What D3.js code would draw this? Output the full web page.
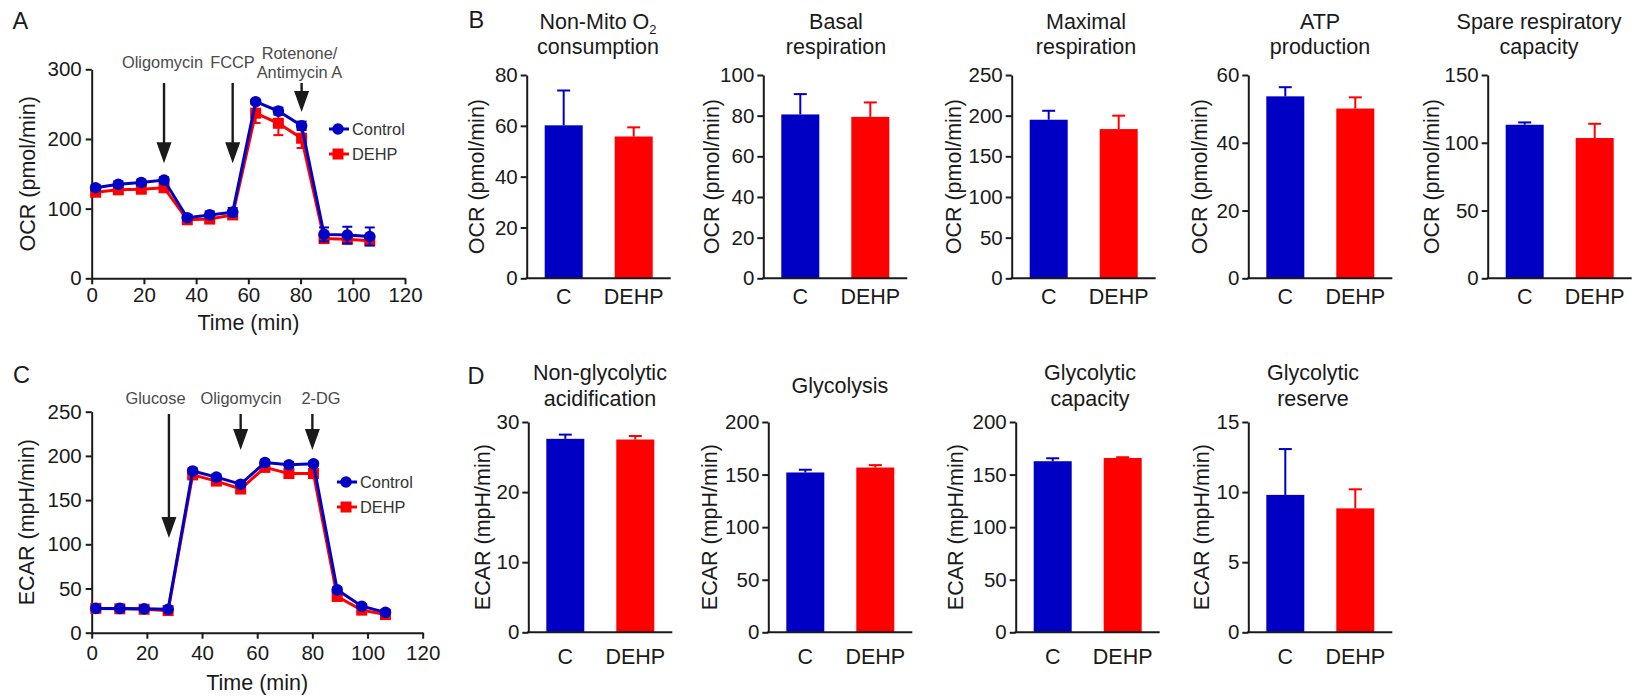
<!DOCTYPE html>
<html><head><meta charset="utf-8">
<script src="https://cdn.jsdelivr.net/npm/d3@7"></script>
<style>
html,body{margin:0;padding:0;background:#fff;}
svg text{font-family:"Liberation Sans",Arial,Helvetica,sans-serif;}
</style></head><body>
<svg id="fig" width="1635" height="697"></svg>
<script>
// ---------------- DATA ----------------
const timePoints = [1.5, 10.2, 19, 27.7, 36.6, 45.2, 54, 62.8, 71.5, 80.4, 89, 97.9, 106.5];
const timeTicks = [0, 20, 40, 60, 80, 100, 120];

const ocrControl    = [130, 135, 137.5, 141, 87, 91, 95, 253.5, 240, 219, 63, 62, 60];
const ocrControlErr = [4, 4, 4, 4, 4, 5, 6, 3, 5, 6, 10, 12, 13];
const ocrDEHP       = [123.5, 127, 128, 130, 84, 85, 91, 237, 222.5, 201, 57, 56, 54];
const ocrDEHPErr    = [5, 6, 6, 6, 5, 5, 5, 14, 17, 14, 5, 5, 5];
const ocrInjections = [["Oligomycin"], ["FCCP"], ["Rotenone/", "Antimycin A"]];
const ocrInjectionTimes = [27.7, 54, 80.4];

const ecarControl    = [27.5, 27.5, 27, 26.5, 183, 176, 168, 192.5, 190, 191, 48.5, 30, 23];
const ecarControlErr = [2, 2, 2, 2, 3, 3, 3, 3, 3, 3, 3, 2, 2];
const ecarDEHP       = [27.5, 27, 26.5, 25, 178.5, 171.5, 162.5, 187, 180, 180, 41, 25.5, 20.5];
const ecarDEHPErr    = [2, 2, 2, 2, 3, 3, 3, 3, 3, 3, 3, 2, 2];
const ecarInjections = [["Glucose"], ["Oligomycin"], ["2-DG"]];
const ecarInjectionTimes = [28, 54, 80];

const seriesNames = ["Control", "DEHP"];
const groups = ["C", "DEHP"];

const ocrTitles = [["Non-Mito O_2", "consumption"], ["Basal", "respiration"], ["Maximal", "respiration"], ["ATP", "production"], ["Spare respiratory", "capacity"]];
const ocrMeans = [[60.2, 55.8], [80.6, 79.4], [195, 183.5], [53.7, 50.1], [113.3, 103.5]];
const ocrErrs  = [[13.7, 3.6], [10, 7.1], [11, 16.5], [2.7, 3.3], [1.7, 10.5]];
const ocrMax   = [80, 100, 250, 60, 150];
const ocrStep  = [20, 20, 50, 20, 50];

const ecarTitles = [["Non-glycolytic", "acidification"], ["Glycolysis"], ["Glycolytic", "capacity"], ["Glycolytic", "reserve"]];
const ecarMeans = [[27.6, 27.5], [152, 156.7], [162.7, 165.8], [9.8, 8.84]];
const ecarErrs  = [[0.6, 0.5], [2.6, 2.3], [2.8, 0.7], [3.27, 1.36]];
const ecarMax   = [30, 200, 200, 15];
const ecarStep  = [10, 50, 50, 5];

// ---------------- STYLE / LAYOUT ----------------
const BLUE = "#0000c4", RED = "#ff0000", INK = "#1a1a1a", GRAY = "#4a4a4a";
const TICK_FS = 20.5, LABEL_FS = 21.5, ANNOT_FS = 16.4;
const svg = d3.select("#fig");

function styleAxis(g) {
  g.selectAll("path.domain").attr("stroke", INK).attr("stroke-width", 2);
  g.selectAll(".tick line").attr("stroke", INK).attr("stroke-width", 2);
  g.selectAll(".tick text").attr("fill", INK).attr("font-size", TICK_FS)
    .attr("font-family", '"Liberation Sans",Arial,sans-serif');
}

function panelLetter(txt, x, y) {
  svg.append("text").attr("x", x).attr("y", y).attr("font-size", 23.5).attr("fill", INK).text(txt);
}

// --------------- LINE PANELS ---------------
function drawLinePanel(cfg) {
  const g = svg.append("g");
  const x = d3.scaleLinear().domain([0, 120]).range([cfg.x0, cfg.x1]);
  const y = d3.scaleLinear().domain([0, cfg.yMax]).range([cfg.yBottom, cfg.yTop]);

  const gx = g.append("g").attr("transform", `translate(0,${cfg.yBottom})`)
    .call(d3.axisBottom(x).tickValues(timeTicks).tickSize(6).tickPadding(cfg.xPad).tickSizeOuter(0));
  styleAxis(gx);
  const gy = g.append("g").attr("transform", `translate(${cfg.x0},0)`)
    .call(d3.axisLeft(y).tickValues(d3.range(0, cfg.yMax + 1, cfg.yStep)).tickSize(6).tickPadding(4).tickSizeOuter(0));
  styleAxis(gy);

  g.append("text").attr("x", (cfg.x0 + cfg.x1) / 2).attr("y", cfg.xTitleY)
    .attr("text-anchor", "middle").attr("font-size", LABEL_FS).attr("fill", INK).text("Time (min)");
  g.append("text").attr("transform", `translate(${cfg.yTitleX},${(cfg.yTop + cfg.yBottom) / 2}) rotate(-90)`)
    .attr("text-anchor", "middle").attr("dominant-baseline", "central")
    .attr("font-size", LABEL_FS).attr("fill", INK).text(cfg.yTitle);

  // injection annotations
  cfg.injections.forEach((lines, i) => {
    const ax = x(cfg.injTimes[i]);
    lines.forEach((ln, j) => {
      g.append("text").attr("x", cfg.labelX[i]).attr("y", cfg.labelY[i][j])
        .attr("text-anchor", "middle").attr("font-size", ANNOT_FS).attr("fill", GRAY).text(ln);
    });
    const tip = cfg.arrowTip[i], head = 21;
    g.append("line").attr("x1", ax).attr("x2", ax).attr("y1", cfg.arrowStart).attr("y2", tip - head + 2)
      .attr("stroke", INK).attr("stroke-width", 2.4);
    g.append("path").attr("d", `M${ax - 7.5},${tip - head} L${ax + 7.5},${tip - head} L${ax},${tip} Z`).attr("fill", INK);
  });

  // series: red first, blue on top
  const series = [
    {name: seriesNames[1], vals: cfg.dehp, errs: cfg.dehpErr, color: RED, shape: "square"},
    {name: seriesNames[0], vals: cfg.control, errs: cfg.controlErr, color: BLUE, shape: "circle"}
  ];
  series.forEach(s => {
    const pts = timePoints.map((t, i) => ({t, v: s.vals[i], e: s.errs[i]}));
    const eg = g.append("g").attr("stroke", s.color).attr("stroke-width", 2);
    pts.forEach(p => {
      eg.append("line").attr("x1", x(p.t)).attr("x2", x(p.t)).attr("y1", y(p.v - p.e)).attr("y2", y(p.v + p.e));
      [p.v - p.e, p.v + p.e].forEach(v => eg.append("line").attr("x1", x(p.t) - 5).attr("x2", x(p.t) + 5).attr("y1", y(v)).attr("y2", y(v)));
    });
    g.append("path").datum(pts).attr("fill", "none").attr("stroke", s.color).attr("stroke-width", 3)
      .attr("d", d3.line().x(p => x(p.t)).y(p => y(p.v)));
    pts.forEach(p => {
      if (s.shape === "circle") g.append("circle").attr("cx", x(p.t)).attr("cy", y(p.v)).attr("r", 5.8).attr("fill", s.color);
      else g.append("rect").attr("x", x(p.t) - 5.5).attr("y", y(p.v) - 5.5).attr("width", 11).attr("height", 11).attr("fill", s.color);
    });
  });

  // legend
  const leg = [{name: seriesNames[0], color: BLUE, shape: "circle", y: cfg.legY[0]},
               {name: seriesNames[1], color: RED, shape: "square", y: cfg.legY[1]}];
  leg.forEach(l => {
    g.append("line").attr("x1", cfg.legX).attr("x2", cfg.legX + 20).attr("y1", l.y).attr("y2", l.y)
      .attr("stroke", l.color).attr("stroke-width", 3);
    if (l.shape === "circle") g.append("circle").attr("cx", cfg.legX + 9).attr("cy", l.y).attr("r", 5.8).attr("fill", l.color);
    else g.append("rect").attr("x", cfg.legX + 3.5).attr("y", l.y - 5.5).attr("width", 11).attr("height", 11).attr("fill", l.color);
    g.append("text").attr("x", cfg.legX + 23).attr("y", l.y).attr("dominant-baseline", "central")
      .attr("font-size", ANNOT_FS).attr("fill", "#333").text(l.name);
  });
}

drawLinePanel({
  x0: 91.7, x1: 405, yTop: 69.3, yBottom: 278.3, yMax: 300, yStep: 100, xPad: 3,
  xTitleY: 329.5, yTitleX: 28, yTitle: "OCR (pmol/min)",
  control: ocrControl, controlErr: ocrControlErr, dehp: ocrDEHP, dehpErr: ocrDEHPErr,
  injections: ocrInjections, injTimes: ocrInjectionTimes,
  labelX: [162.5, 232.5, 299.5], labelY: [[68.3], [68.3], [59.3, 78.3]],
  arrowStart: 83, arrowTip: [163.3, 163.3, 112],
  legX: 329, legY: [129, 154]
});

drawLinePanel({
  x0: 91.7, x1: 422.7, yTop: 411.7, yBottom: 632.7, yMax: 250, yStep: 50, xPad: 7,
  xTitleY: 690, yTitleX: 27, yTitle: "ECAR (mpH/min)",
  control: ecarControl, controlErr: ecarControlErr, dehp: ecarDEHP, dehpErr: ecarDEHPErr,
  injections: ecarInjections, injTimes: ecarInjectionTimes,
  labelX: [155.5, 241, 321], labelY: [[404.3], [404.3], [404.3]],
  arrowStart: 414, arrowTip: [538, 450, 450],
  legX: 337, legY: [482, 507]
});

// --------------- BAR PANELS ---------------
function titleText(g, str, x, yy) {
  const t = g.append("text").attr("x", x).attr("y", yy).attr("text-anchor", "middle")
    .attr("font-size", LABEL_FS).attr("fill", INK);
  const parts = str.split("_");
  t.append("tspan").text(parts[0]);
  if (parts.length > 1) t.append("tspan").attr("font-size", 13).attr("dy", 5).text(parts[1]);
}

function drawBarRow(row) {
  row.means.forEach((means, k) => {
    const g = svg.append("g");
    const ax = row.axisX[k];
    const yMax = row.max[k];
    const y = d3.scaleLinear().domain([0, yMax]).range([row.yBottom, row.yTop]);
    const xb = d3.scaleBand().domain(groups).range([ax, ax + 144]).paddingInner(0.457).paddingOuter(0.257);

    // bars
    groups.forEach((grp, i) => {
      const col = i === 0 ? BLUE : RED;
      const m = means[i], e = row.errs[k][i];
      const cx = xb(grp) + xb.bandwidth() / 2;
      g.append("line").attr("x1", cx).attr("x2", cx).attr("y1", y(m)).attr("y2", y(m + e)).attr("stroke", col).attr("stroke-width", 2);
      g.append("line").attr("x1", cx - 6.5).attr("x2", cx + 6.5).attr("y1", y(m + e)).attr("y2", y(m + e)).attr("stroke", col).attr("stroke-width", 2);
      g.append("rect").attr("x", xb(grp)).attr("y", y(m)).attr("width", xb.bandwidth()).attr("height", y(0) - y(m)).attr("fill", col);
      g.append("text").attr("x", cx).attr("y", row.catY).attr("text-anchor", "middle").attr("dominant-baseline", "central")
        .attr("font-size", LABEL_FS).attr("fill", INK).text(grp);
    });

    // axes
    const gy = g.append("g").attr("transform", `translate(${ax},0)`)
      .call(d3.axisLeft(y).tickValues(d3.range(0, yMax + 0.001, row.step[k])).tickSize(6).tickPadding(3).tickSizeOuter(0));
    styleAxis(gy);
    g.append("line").attr("x1", ax - 1).attr("x2", ax + 144).attr("y1", row.yBottom).attr("y2", row.yBottom)
      .attr("stroke", INK).attr("stroke-width", 2);

    // y title
    g.append("text").attr("transform", `translate(${row.yTitleX[k]},${(row.yTop + row.yBottom) / 2}) rotate(-90)`)
      .attr("text-anchor", "middle").attr("dominant-baseline", "central")
      .attr("font-size", LABEL_FS).attr("fill", INK).text(row.yTitle);

    // chart title
    const lines = row.titles[k];
    if (lines.length === 2) {
      titleText(g, lines[0], row.titleX[k], row.line1Y);
      titleText(g, lines[1], row.titleX[k], row.line2Y);
    } else {
      titleText(g, lines[0], row.titleX[k], row.singleY);
    }
  });
}

drawBarRow({
  means: ocrMeans, errs: ocrErrs, max: ocrMax, step: ocrStep, titles: ocrTitles, yTitle: "OCR (pmol/min)",
  axisX: [526.7, 763.3, 1011.7, 1248.3, 1487.7],
  titleX: [598, 836, 1086, 1320, 1539],
  yTitleX: [476.7, 711.7, 954.3, 1200, 1431.7],
  yTop: 75, yBottom: 278.3, line1Y: 29, line2Y: 54, singleY: 41, catY: 296.7
});

drawBarRow({
  means: ecarMeans, errs: ecarErrs, max: ecarMax, step: ecarStep, titles: ecarTitles, yTitle: "ECAR (mpH/min)",
  axisX: [528.3, 768.3, 1015.7, 1248.3],
  titleX: [600, 840, 1090, 1313],
  yTitleX: [483.3, 710, 956, 1201.7],
  yTop: 422, yBottom: 632.3, line1Y: 380, line2Y: 405.7, singleY: 392.7, catY: 656.7
});

panelLetter("A", 12.5, 29.3);
panelLetter("B", 468.5, 28.3);
panelLetter("C", 13, 383.3);
panelLetter("D", 467.5, 384.3);
</script>
</body></html>
